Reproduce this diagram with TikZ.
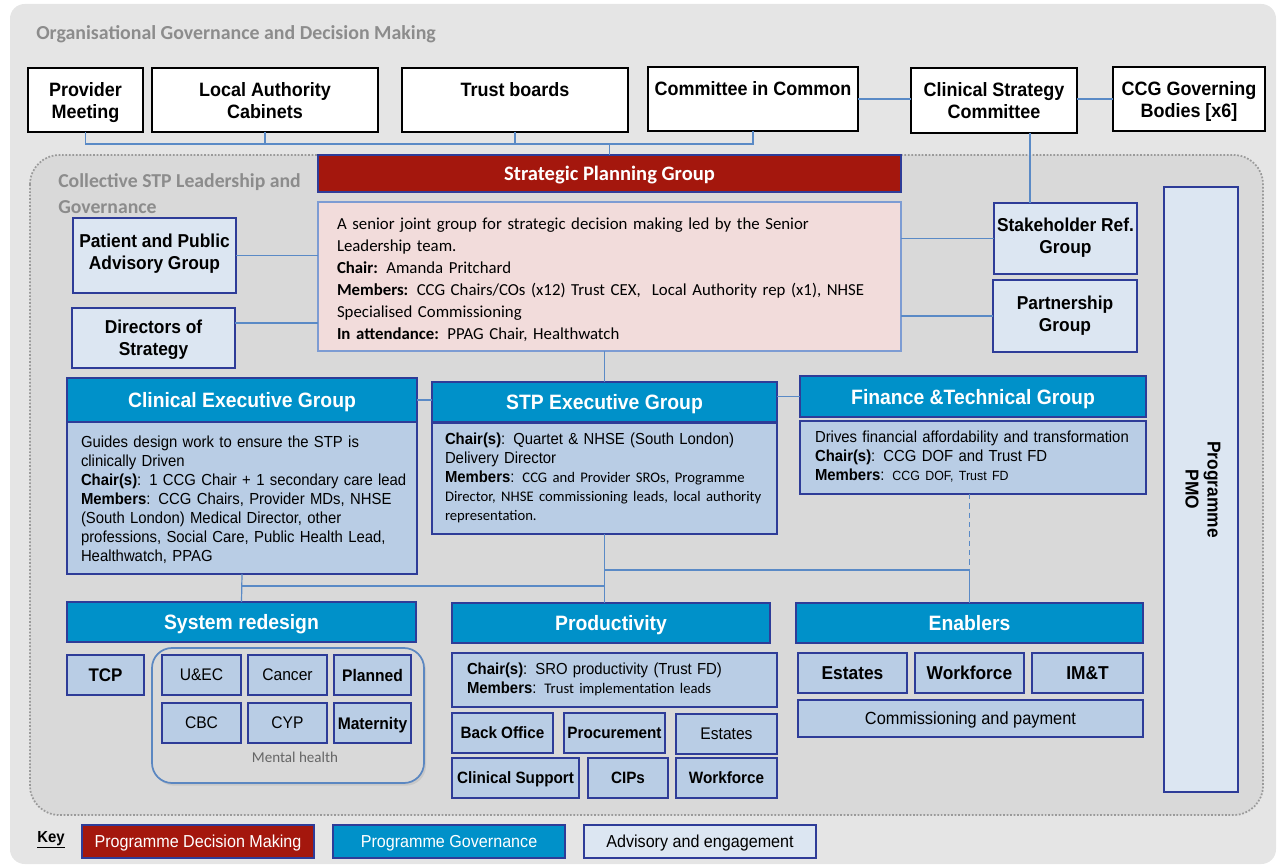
\documentclass[tikz,border=0pt]{standalone}
\usepackage{fontspec}
\setmainfont{Liberation Sans}[FakeStretch=0.93]
\newfontfamily\calfont{Carlito}
\usetikzlibrary{calc,shadows}
\definecolor{outerbg}{HTML}{E5E5E5}
\definecolor{innerbg}{HTML}{D9D9D9}
\definecolor{navy}{HTML}{2E3C98}
\definecolor{hdrc}{HTML}{0091C9}
\definecolor{bodyc}{HTML}{B9CDE5}
\definecolor{advc}{HTML}{DCE6F2}
\definecolor{spgred}{HTML}{A4170D}
\definecolor{pinkc}{HTML}{F2DCDB}
\definecolor{pinkb}{HTML}{7D9CD3}
\definecolor{connc}{HTML}{5A8AC6}
\definecolor{titlegray}{HTML}{8C8C8C}
\definecolor{dotc}{HTML}{9A9A9A}
\definecolor{mhc}{HTML}{5B87C1}
\newcommand{\bx}[7]{\node[#2,minimum width={(#5-#3)*0.75pt},minimum height={(#6-#4)*0.75pt}] (#1) at ({(#3+#5)/2},{(#4+#6)/2}) {#7};}
\newcommand{\lefttab}[1]{\begin{tabular}{@{}l@{}}#1\end{tabular}}
\begin{document}
\begin{tikzpicture}[x=0.75pt,y=-0.75pt,
  bxbase/.style={inner sep=0pt,outer sep=0pt,align=center},
  cbase/.style={bxbase,text depth=0pt},
  topbox/.style={cbase,draw=black,line width=1.5pt,fill=white,font=\bfseries\fontsize{14.5}{16.5}\selectfont},
  advbox/.style={cbase,draw=navy,line width=1.5pt,fill=advc,font=\bfseries\fontsize{14}{16.5}\selectfont},
  hdrbox/.style={cbase,draw=navy,line width=1.5pt,fill=hdrc,text=white,font=\bfseries\fontsize{15.6}{18}\selectfont},
  bodybox/.style={bxbase,draw=navy,line width=1.5pt,fill=bodyc,align=left,font=\fontsize{12}{14.25}\selectfont},
  itembox/.style={cbase,draw=navy,line width=1.5pt,fill=bodyc,font=\fontsize{12.6}{15}\selectfont},
  pitem/.style={itembox,font=\bfseries\fontsize{12.3}{15}\selectfont},
  eitem/.style={itembox,font=\bfseries\fontsize{14}{16}\selectfont},
  keybox/.style={cbase,draw=navy,line width=1.5pt,font=\fontsize{13}{15}\selectfont},
  conn/.style={draw=connc,line width=0.9pt}]
\useasboundingbox (0,0) rectangle (1278,866);
\fill[outerbg,rounded corners=11pt] (10,4) rectangle (1276,864);
\draw[dotc,fill=innerbg,line width=1.3pt,dash pattern=on 1.3pt off 1.3pt,rounded corners=22pt] (30,155) rectangle (1263,815);

\node[anchor=west,text=titlegray,font=\calfont\bfseries\fontsize{14.9}{17}\selectfont,inner sep=0pt] (t1) at (36,34) {Organisational Governance and Decision Making};
\node[anchor=west,align=left,text=titlegray,font=\calfont\bfseries\fontsize{14.8}{19.5}\selectfont,inner sep=0pt] (t2) at (58,194) {Collective STP Leadership and\\Governance};

% top row
\bx{prov}{topbox}{28}{68}{143}{132}{Provider\\Meeting}
\bx{lac}{topbox}{152}{68}{378}{132}{Local Authority\\Cabinets}
\bx{trust}{topbox}{402}{68}{628}{132}{Trust boards\\\strut}
\bx{cic}{topbox}{648}{67}{858}{131}{Committee in Common\\\strut}
\bx{csc}{topbox}{911}{68}{1077}{133}{Clinical Strategy\\Committee}
\bx{ccg}{topbox}{1113}{67}{1265}{131}{CCG Governing\\Bodies [x6]}

% strategic planning group
\bx{spgh}{hdrbox,fill=spgred,font=\calfont\bfseries\fontsize{15.4}{18}\selectfont}{318}{155}{901}{192}{Strategic Planning Group}
\bx{spgb}{bxbase,draw=pinkb,line width=1.2pt,fill=pinkc,align=left,text width=408.75pt,font=\calfont\fontsize{12.6}{16.5}\selectfont}{318}{202}{901}{351}{\raisebox{-3pt}[\height][\depth]{\lefttab{A senior joint group for strategic decision making led by the Senior\\Leadership team.\\\textbf{Chair:} Amanda Pritchard\\\textbf{Members:} CCG Chairs/COs (x12) Trust CEX,\ \ Local Authority rep (x1), NHSE\\Specialised Commissioning\\\textbf{In attendance:} PPAG Chair, Healthwatch}}}

% advisory
\bx{ppag}{advbox,text depth=6pt}{73}{218}{236}{293}{Patient and Public\\Advisory Group}
\bx{dos}{advbox}{72}{308}{235}{368}{Directors of\\Strategy}
\bx{srg}{advbox,text depth=4.5pt}{994}{203}{1137}{274}{Stakeholder Ref.\\Group}
\bx{pg}{advbox,text depth=3pt}{993}{280}{1137}{352}{Partnership\\Group}
\bx{pmo}{bxbase,draw=navy,line width=1.5pt,fill=advc,font=\bfseries\fontsize{14}{16.5}\selectfont}{1164}{187}{1238}{792}{\rotatebox{-90}{\begin{tabular}{@{}c@{}}Programme\\PMO\end{tabular}}}

% executive groups
\bx{cegh}{hdrbox}{67}{378}{417}{422}{Clinical Executive Group}
\bx{cegb}{bodybox,text width=241.5pt}{67}{422}{417}{574}{\raisebox{-2pt}[\height][\depth]{\lefttab{Guides design work to ensure the STP is\\clinically Driven\\\textbf{Chair(s)}: 1 CCG Chair + 1 secondary care lead\\\textbf{Members}: CCG Chairs, Provider MDs, NHSE\\(South London) Medical Director, other\\professions, Social Care, Public Health Lead,\\Healthwatch, PPAG}}}
\bx{stph}{hdrbox}{432}{382}{777}{422}{STP Executive Group}
\bx{stpb}{bodybox,text width=239.25pt}{432}{423}{777}{534}{\lefttab{\textbf{Chair(s)}: Quartet \& NHSE (South London)\\Delivery Director\\\textbf{Members}: {\calfont\fontsize{11}{14.25}\selectfont CCG and Provider SROs, Programme}\\{\calfont\fontsize{11}{14.25}\selectfont Director, NHSE commissioning leads, local authority}\\{\calfont\fontsize{11}{14.25}\selectfont representation.}}}
\bx{fth}{hdrbox}{800}{376}{1146}{417}{Finance \&Technical Group}
\bx{ftb}{bodybox,text width=237pt}{800}{421}{1146}{494}{\lefttab{Drives financial affordability and transformation\\\textbf{Chair(s)}: CCG DOF and Trust FD\\\textbf{Members}: {\fontsize{10}{14.25}\selectfont CCG DOF, Trust FD}}}

% system redesign
\bx{sysh}{hdrbox}{67}{602}{416}{642}{System redesign}
\bx{tcp}{itembox,font=\bfseries\fontsize{13.7}{16}\selectfont}{67}{655}{144}{695}{TCP}
\bx{mh}{bxbase,draw=mhc,line width=1.3pt,rounded corners=15pt,fill=innerbg,drop shadow={opacity=0.18,shadow xshift=1.5pt,shadow yshift=-2pt}}{152}{648}{424}{783}{}
\bx{uec}{itembox}{162}{655}{241}{695}{U\&EC}
\bx{cancer}{itembox}{248}{655}{327}{695}{Cancer}
\bx{planned}{itembox,font=\bfseries\fontsize{12.6}{15}\selectfont}{334}{655}{411}{695}{Planned}
\bx{cbc}{itembox}{162}{703}{241}{743}{CBC}
\bx{cyp}{itembox}{248}{703}{327}{743}{CYP}
\bx{mat}{itembox,font=\bfseries\fontsize{12.6}{15}\selectfont}{334}{703}{411}{743}{Maternity}
\node[text=black!60,font=\calfont\fontsize{11.3}{13}\selectfont,inner sep=0pt] (mhl) at (295,757) {Mental health};

% productivity
\bx{prodh}{hdrbox}{452}{603}{770}{643}{Productivity}
\bx{prodb}{bodybox,text width=221.25pt}{452}{653}{777}{707}{\lefttab{\textbf{Chair(s)}: SRO productivity (Trust FD)\\\textbf{Members}: {\calfont\fontsize{11}{14.25}\selectfont Trust implementation leads}}}
\bx{bo}{pitem}{452}{713}{553}{753}{Back Office}
\bx{proc}{pitem}{564}{713}{665}{753}{Procurement}
\bx{pest}{itembox,font=\fontsize{12.6}{15}\selectfont}{676}{714}{777}{754}{Estates}
\bx{cs}{pitem}{452}{758}{579}{798}{Clinical Support}
\bx{cips}{pitem}{588}{758}{668}{798}{CIPs}
\bx{pwf}{pitem}{676}{758}{777}{798}{Workforce}

% enablers
\bx{enh}{hdrbox}{796}{603}{1143}{643}{Enablers}
\bx{eest}{eitem}{798}{653}{907}{693}{Estates}
\bx{ewf}{eitem}{915}{653}{1024}{693}{Workforce}
\bx{imt}{eitem}{1032}{653}{1143}{693}{IM\&T}
\bx{comm}{itembox,font=\fontsize{13.2}{15}\selectfont}{798}{700}{1143}{737}{Commissioning and payment}

% key
\node[anchor=west,font=\bfseries\fontsize{12}{14}\selectfont,inner sep=0pt] (key) at (37,840) {\underline{Key}};
\bx{k1}{keybox,fill=spgred,text=white}{82}{825}{314}{858}{Programme Decision Making}
\bx{k2}{keybox,fill=hdrc,text=white}{333}{825}{565}{858}{Programme Governance}
\bx{k3}{keybox,fill=advc}{584}{825}{816}{858}{Advisory and engagement}

% connectors
\draw[conn] (prov.south) -- ++(0,12) -| (cic.south);
\draw[conn] (lac.south) -- ++(0,12);
\draw[conn] (trust.south) -- ++(0,12);
\draw[conn] (spgh.north) -- ++(0,-11);
\draw[conn] (cic.east) -- (cic.east -| csc.west);
\draw[conn] (ccg.west) -- (ccg.west -| csc.east);
\draw[conn] ([xshift=27pt]csc.south) -- ([xshift=27pt]csc.south |- srg.north);
\draw[conn] (ppag.east) -- (ppag.east -| spgb.west);
\draw[conn] ([yshift=11.25pt]dos.east) -- ([yshift=11.25pt]dos.east -| spgb.west);
\draw[conn] (srg.west) -- (srg.west -| spgb.east);
\draw[conn] (pg.west) -- (pg.west -| spgb.east);
\draw[conn] (stph.north) -- (stph.north |- spgb.south);
\draw[conn] (cegh.east) -- (cegh.east -| stph.west);
\draw[conn] (fth.west) -- (fth.west -| stph.east);
\draw[conn] (stpb.south) -- (stpb.south |- prodh.north);
\draw[conn] ([yshift=-27pt]stpb.south) -| (enh.north);
\draw[conn,dash pattern=on 4pt off 3pt] (enh.north |- ftb.south) -- ([yshift=-27pt]stpb.south -| enh.north);
\draw[conn] (cegb.south) -- (sysh.north);
\draw[conn] ([yshift=-9pt]cegb.south) -- ([yshift=-9pt]cegb.south -| stpb.south);
\end{tikzpicture}
\end{document}
